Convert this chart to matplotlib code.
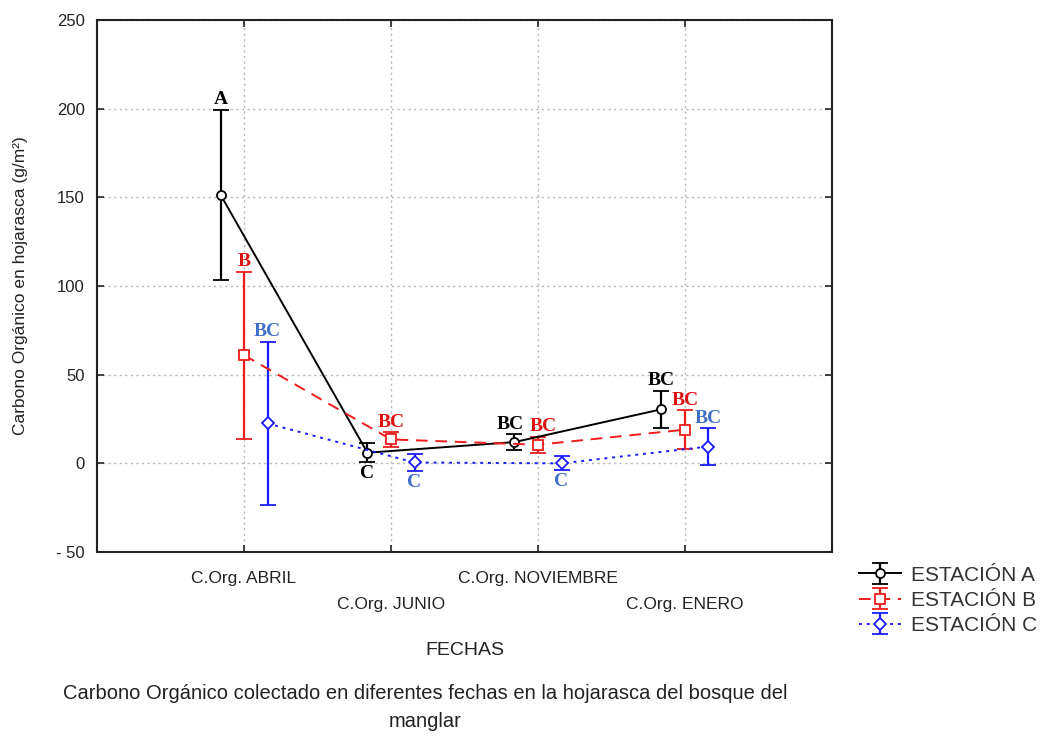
import matplotlib
matplotlib.use("Agg")
import matplotlib.pyplot as plt
import numpy as np

plt.rcParams['font.family'] = ['Liberation Sans', 'DejaVu Sans']

# Sampling dates and stations
fechas = ["C.Org. ABRIL", "C.Org. JUNIO", "C.Org. NOVIEMBRE", "C.Org. ENERO"]
estaciones = ["ESTACIÓN A", "ESTACIÓN B", "ESTACIÓN C"]

# Mean organic carbon (g/m²) and half-width of the error bars
media_a = [151.5, 6.0, 12.0, 30.5]
error_a = [48.0, 5.5, 4.5, 10.5]
media_b = [61.0, 13.5, 10.5, 19.0]
error_b = [47.0, 4.0, 4.5, 11.0]
media_c = [22.5, 0.5, 0.0, 9.5]
error_c = [46.0, 5.0, 4.0, 10.5]

# Tukey group letters
letras_a = ["A", "C", "BC", "BC"]
letras_b = ["B", "BC", "BC", "BC"]
letras_c = ["BC", "C", "C", "BC"]

y_ticks = [-50, 0, 50, 100, 150, 200, 250]
y_tick_labels = ["- 50", "0", "50", "100", "150", "200", "250"]

series = [
    dict(media=media_a, err=error_a, letras=letras_a, color="black", ls="-",
         marker="o", shift=-0.16, txt="black", below=[False, True, False, False],
         nudge=[0, 0, -3, 0]),
    dict(media=media_b, err=error_b, letras=letras_b, color="#ee1c1c", ls=(0, (6, 4)),
         marker="s", shift=0.0, txt="#e01010", below=[False, False, False, False],
         nudge=[0, 0, 4, 0]),
    dict(media=media_c, err=error_c, letras=letras_c, color="#1a1aff", ls=(0, (1.5, 2.5)),
         marker="D", shift=0.16, txt="#3f6fc8", below=[False, True, True, False],
         nudge=[0, 0, 0, 0]),
]

fig = plt.figure(figsize=(10.57, 7.4), dpi=100)
ax = fig.add_axes([0.0918, 0.254, 0.6953, 0.719])

pos = np.arange(1, len(fechas) + 1)
handles = []
for s in series:
    x = pos + s["shift"]
    ms = 6.5 if s["marker"] != "D" else 6
    h = ax.errorbar(x, s["media"], yerr=s["err"], color=s["color"], ls=s["ls"],
                    lw=1.4, marker=s["marker"], ms=ms, mfc="white", mec=s["color"],
                    mew=1.3, capsize=6, capthick=1.6, elinewidth=1.6, zorder=3)
    handles.append(h)
    for xi, m, e, lab, below, dx in zip(x, s["media"], s["err"], s["letras"],
                                        s["below"], s["nudge"]):
        if below:
            ax.annotate(lab, (xi, m - e), xytext=(dx, -2), textcoords="offset points",
                        ha="center", va="top", color=s["txt"], fontsize=14,
                        fontweight="bold", family="Liberation Serif", zorder=4)
        else:
            ax.annotate(lab, (xi, m + e), xytext=(dx, 1), textcoords="offset points",
                        ha="center", va="bottom", color=s["txt"], fontsize=14,
                        fontweight="bold", family="Liberation Serif", zorder=4)

ax.set_xlim(0, 5)
ax.set_ylim(-50, 250)
ax.set_yticks(y_ticks)
ax.set_yticklabels(y_tick_labels)
ax.set_xticks(pos)
ax.set_xticklabels([f if i % 2 == 0 else "\n" + f for i, f in enumerate(fechas)],
                   linespacing=1.85)
ax.tick_params(direction="in", top=True, right=True, length=5, width=1.2,
               labelsize=12, colors="#222222", pad=9)
ax.tick_params(axis="x", pad=14, labelsize=12.5)
for sp in ax.spines.values():
    sp.set_linewidth(1.5)
    sp.set_color("#222222")
ax.grid(True, color="#b5b5b5", ls=(0, (1.5, 2.5)), lw=1.0, zorder=0)
ax.set_axisbelow(True)

ax.set_ylabel("Carbono Orgánico en hojarasca (g/m²)", fontsize=12.5, color="#222222",
              labelpad=20)
ax.set_xlabel("FECHAS", fontsize=14, color="#222222", labelpad=22)

leg = fig.legend(handles, estaciones, loc="upper left", bbox_to_anchor=(0.805, 0.247),
                 frameon=False, fontsize=15, handlelength=2.0, handletextpad=0.5,
                 labelspacing=0.3, borderaxespad=0)
for t in leg.get_texts():
    t.set_color("#333333")

fig.text(0.402, 0.044,
         "Carbono Orgánico colectado en diferentes fechas en la hojarasca del bosque del\nmanglar",
         ha="center", va="center", fontsize=14.5, color="#222222", linespacing=1.6)

fig.savefig("out.png", dpi=100)
